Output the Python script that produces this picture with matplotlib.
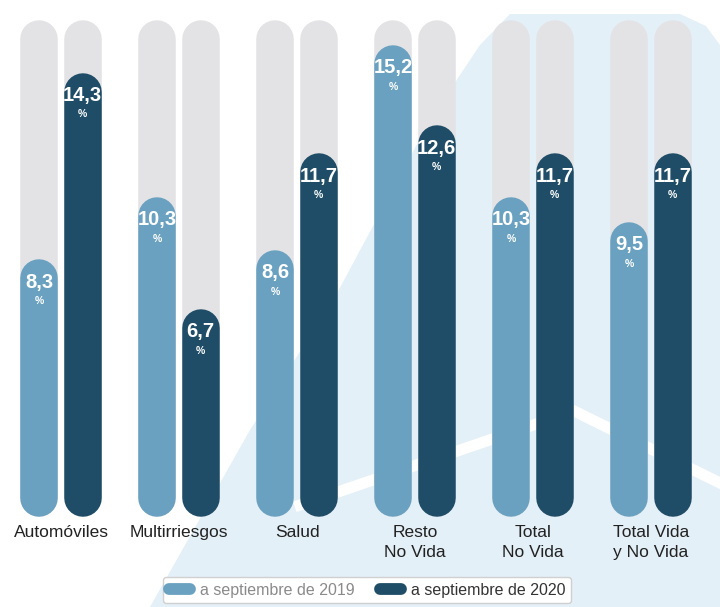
import matplotlib
matplotlib.use("Agg")
import matplotlib.pyplot as plt
from matplotlib.patches import Polygon
from matplotlib.lines import Line2D

categories = ["Automóviles", "Multirriesgos", "Salud", "Resto\nNo Vida", "Total\nNo Vida", "Total Vida\ny No Vida"]
sep_2019 = [8.3, 10.3, 8.6, 15.2, 10.3, 9.5]
sep_2020 = [14.3, 6.7, 11.7, 12.6, 11.7, 11.7]
series_names = ["a septiembre de 2019", "a septiembre de 2020"]
y_max = 16

LIGHT = "#6aa1c0"
DARK = "#1f4d68"
TRACK = "#e3e3e5"

W, H, DPI = 720, 607, 100
plt.rcParams["font.family"] = ["Liberation Sans", "DejaVu Sans"]

fig = plt.figure(figsize=(W / DPI, H / DPI), dpi=DPI, facecolor="white")


def px(x, y):
    return (x / W, 1 - y / H)


# decorative background (logo-like shape)
bg = Polygon([px(150, 607), px(250, 430), px(336, 295), px(430, 120), px(480, 45),
              px(510, 14), px(680, 14), px(706, 26), px(720, 45), px(720, 607)],
             closed=True, transform=fig.transFigure, facecolor="#e4f0f7",
             edgecolor="none", zorder=-10)
fig.add_artist(bg)
chevron = Line2D([300 / W, 574 / W, 720 / W], [1 - 505 / H, 1 - 411 / H, 1 - 483 / H],
                 transform=fig.transFigure, color="white", lw=8, zorder=-9,
                 solid_joinstyle="miter")
fig.add_artist(chevron)

# axes: bottom of bars at 517px, top of tracks at 20px
ax = fig.add_axes([0, 90 / H, 1, 497 / H])
ax.set_facecolor("none")
group_px = 118.0
first_px = 61.0
ax.set_xlim(-first_px / group_px, (W - first_px) / group_px)
ax.set_ylim(0, y_max)

bar_px = 37.5
offset = 21.75 / group_px
lw_pt = bar_px * 72 / DPI
r_y = (bar_px / 2) / (497 / y_max)  # cap radius in data units


def pill(x, top, color, z):
    ax.plot([x, x], [r_y, top - r_y], color=color, lw=lw_pt,
            solid_capstyle="round", zorder=z, clip_on=False)


def label(x, v):
    txt = f"{v:.1f}".replace(".", ",")
    ax.annotate(txt, (x, v), xytext=(0, -16.5), textcoords="offset points",
                ha="center", va="center", color="white", fontsize=14.5,
                fontweight="bold", zorder=5)
    ax.annotate("%", (x, v), xytext=(0, -30), textcoords="offset points",
                ha="center", va="center", color="white", fontsize=7.5,
                fontweight="bold", zorder=5)


for i in range(len(categories)):
    for x, v, c in [(i - offset, sep_2019[i], LIGHT), (i + offset, sep_2020[i], DARK)]:
        pill(x, y_max, TRACK, 1)
        pill(x, v, c, 2)
        label(x, v)

ax.set_xticks(range(len(categories)), categories)
ax.tick_params(axis="x", length=0, pad=6, labelsize=12.5, labelcolor="#222222")
for t in ax.get_xticklabels():
    t.set_linespacing(1.35)
ax.set_yticks([])
for s in ax.spines.values():
    s.set_visible(False)

handles = [Line2D([0], [0], color=LIGHT, lw=8.5, solid_capstyle="round"),
           Line2D([0], [0], color=DARK, lw=8.5, solid_capstyle="round")]
leg = fig.legend(handles, series_names, loc="center", bbox_to_anchor=(367 / W, 1 - 590 / H),
                 ncol=2, fontsize=11.5, frameon=True, fancybox=True, edgecolor="#d0d0d0",
                 handlelength=1.35, handletextpad=0.6, columnspacing=1.6,
                 borderpad=0.35, framealpha=1)
leg.get_texts()[0].set_color("#8a8a8a")
leg.get_texts()[1].set_color("#333333")

fig.savefig("out.png", dpi=DPI, facecolor="white")
